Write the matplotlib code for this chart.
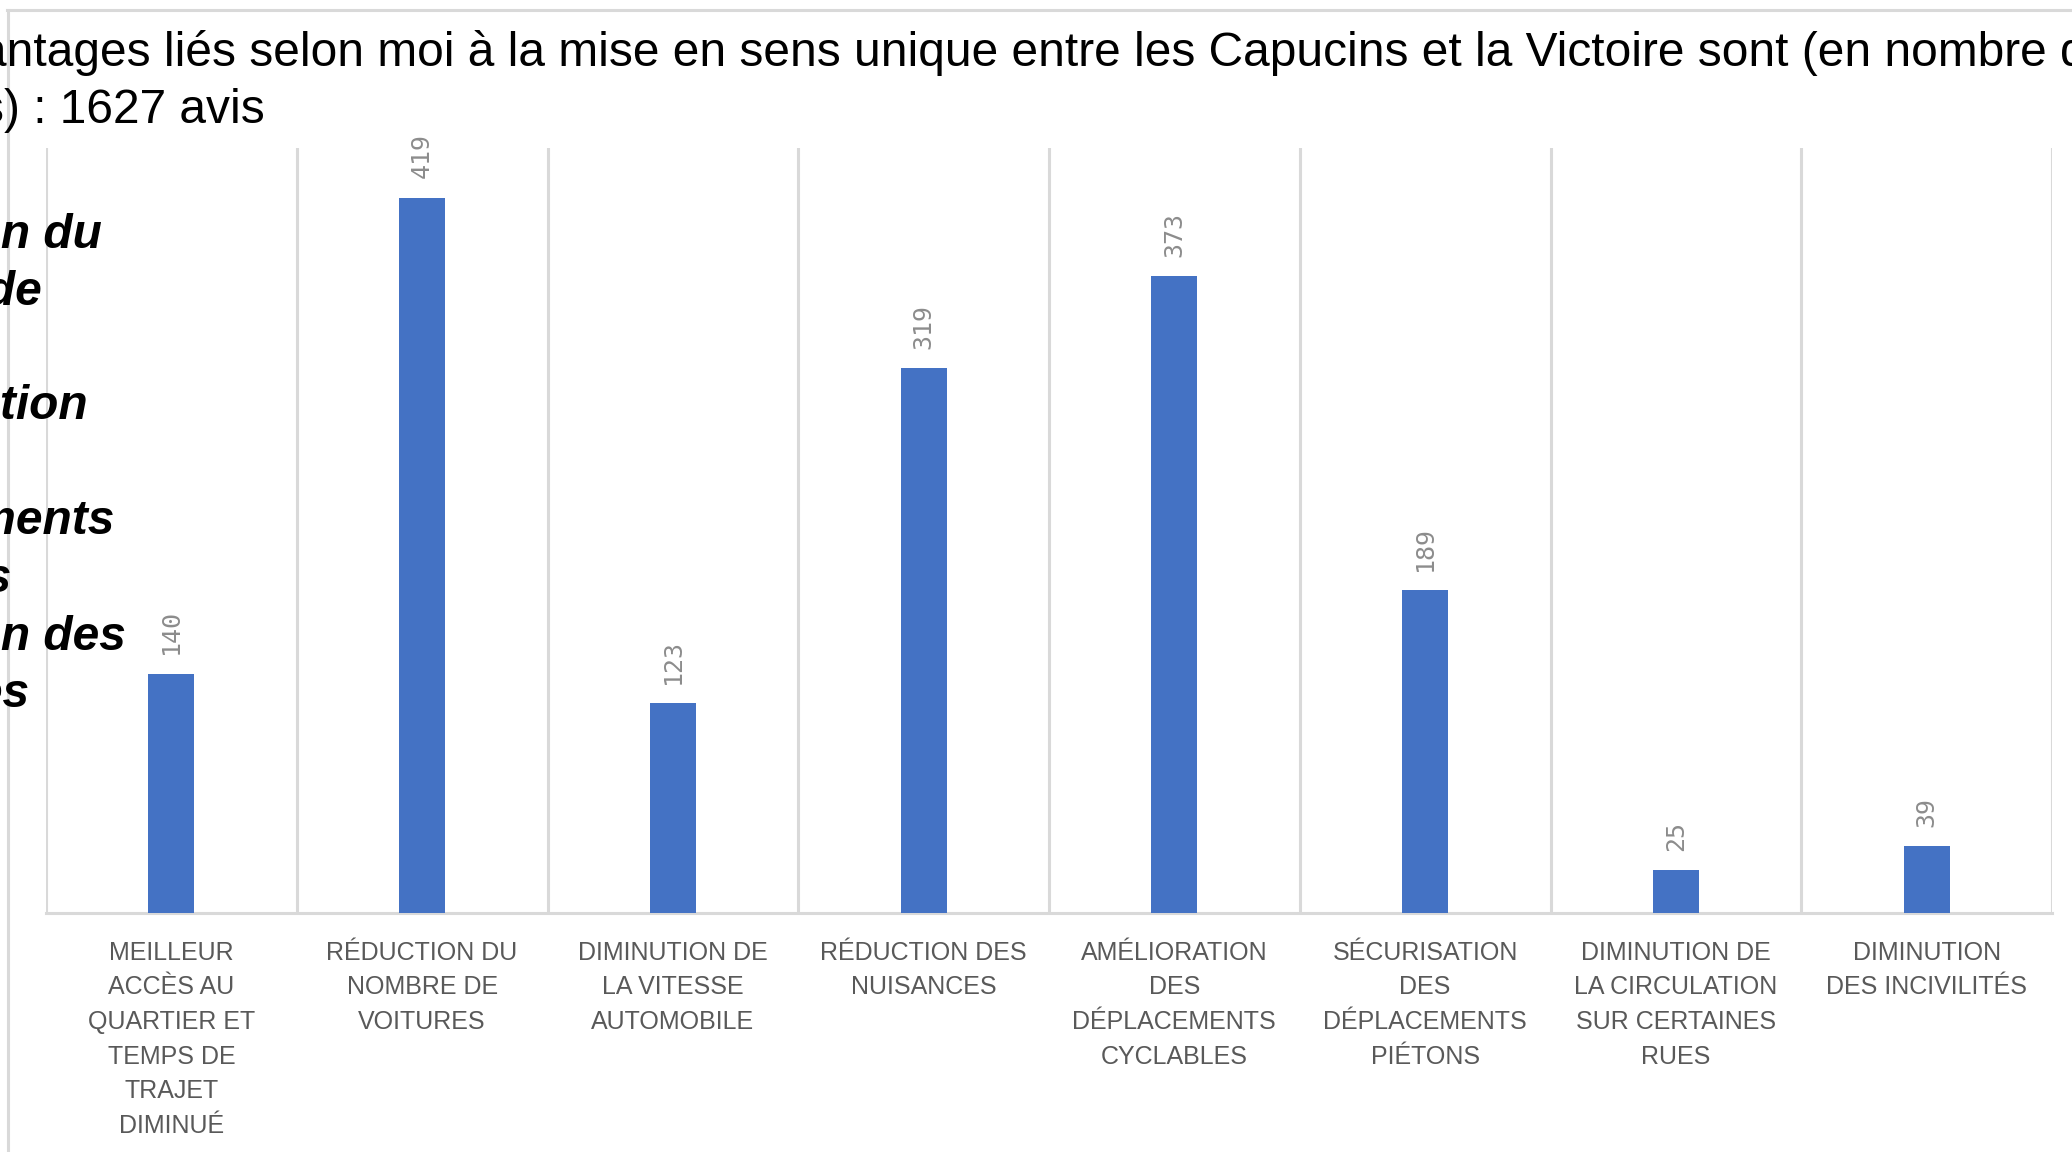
import matplotlib
matplotlib.use("Agg")
import matplotlib.pyplot as plt
from matplotlib.lines import Line2D

# ── Data ──────────────────────────────────────────────────────
CATEGORIES = [
    "MEILLEUR\nACCÈS AU\nQUARTIER ET\nTEMPS DE\nTRAJET\nDIMINUÉ",
    "RÉDUCTION DU\nNOMBRE DE\nVOITURES",
    "DIMINUTION DE\nLA VITESSE\nAUTOMOBILE",
    "RÉDUCTION DES\nNUISANCES",
    "AMÉLIORATION\nDES\nDÉPLACEMENTS\nCYCLABLES",
    "SÉCURISATION\nDES\nDÉPLACEMENTS\nPIÉTONS",
    "DIMINUTION DE\nLA CIRCULATION\nSUR CERTAINES\nRUES",
    "DIMINUTION\nDES INCIVILITÉS",
]
VALUES = [140, 419, 123, 319, 373, 189, 25, 39]

TITLE_LINE1 = ("antages liés selon moi à la mise en sens unique entre les "
               "Capucins et la Victoire sont (en nombre de")
TITLE_LINE2 = "s) : 1627 avis"

# fragments of the neighbouring chart, cut by the left edge
SIDE_LINES = ["Réduction du", "nombre de", "Amélioration", "déplacements",
              "piétons", "Réduction des", "nuisances"]
# ───────────────────────────────────────────────────────────────

W, H = 2072, 1152
BAR_COLOR = "#4472C4"
GRID_COLOR = "#d9d9d9"

fig = plt.figure(figsize=(W / 100, H / 100), dpi=100)
fig.patch.set_facecolor("white")

# outer frame of the screenshot
fig.add_artist(Line2D([7 / W, 1], [1 - 10 / H, 1 - 10 / H], transform=fig.transFigure,
                      color=GRID_COLOR, lw=2.2))
fig.add_artist(Line2D([8 / W, 8 / W], [0, 1 - 10 / H], transform=fig.transFigure,
                      color=GRID_COLOR, lw=2.2))

ax = fig.add_axes([46 / W, 239 / H, (2052 - 46) / W, (1004 - 239) / H])
x = list(range(len(VALUES)))
bars = ax.bar(x, VALUES, width=0.184, color=BAR_COLOR, zorder=3)
ax.bar_label(bars, labels=[str(v) for v in VALUES], rotation=90, padding=14,
             fontsize=18, color="#8c8c8c", family="DejaVu Sans Mono")

ax.set_xlim(-0.5, len(VALUES) - 0.5)
ax.set_ylim(0, 448)
ax.set_yticks([])
ax.set_xticks(x)
ax.set_xticklabels(CATEGORIES, fontsize=18, color="#595959", family="Liberation Sans",
                   linespacing=1.56)
ax.tick_params(axis="x", length=0, pad=20)
ax.set_xticks([i - 0.5 for i in range(len(VALUES) + 1)], minor=True)
ax.tick_params(axis="x", which="minor", length=0)
ax.grid(axis="x", which="minor", color=GRID_COLOR, lw=2.2)
ax.set_axisbelow(True)
for side in ["top", "right", "left"]:
    ax.spines[side].set_visible(False)
ax.spines["bottom"].set_color(GRID_COLOR)
ax.spines["bottom"].set_linewidth(2.2)

# title, cut at the left and right edges
fig.text(-20 / W, 1 - 66 / H, TITLE_LINE1, fontsize=34.5, family="Liberation Sans",
         va="baseline", ha="left")
fig.text(-20 / W, 1 - 123 / H, TITLE_LINE2, fontsize=34.5, family="Liberation Sans",
         va="baseline", ha="left")

# bold italic labels of the chart on the left
side_right = [102, 42, 89, 115, 11, 126, 29]
side_base = [248, 305, 419, 534, 592, 650, 707]
for txt, xr, yb in zip(SIDE_LINES, side_right, side_base):
    fig.text(xr / W, 1 - yb / H, txt, fontsize=34.5, family="Liberation Sans",
             weight="bold", style="italic", va="baseline", ha="right")

fig.savefig("out.png", dpi=100)
